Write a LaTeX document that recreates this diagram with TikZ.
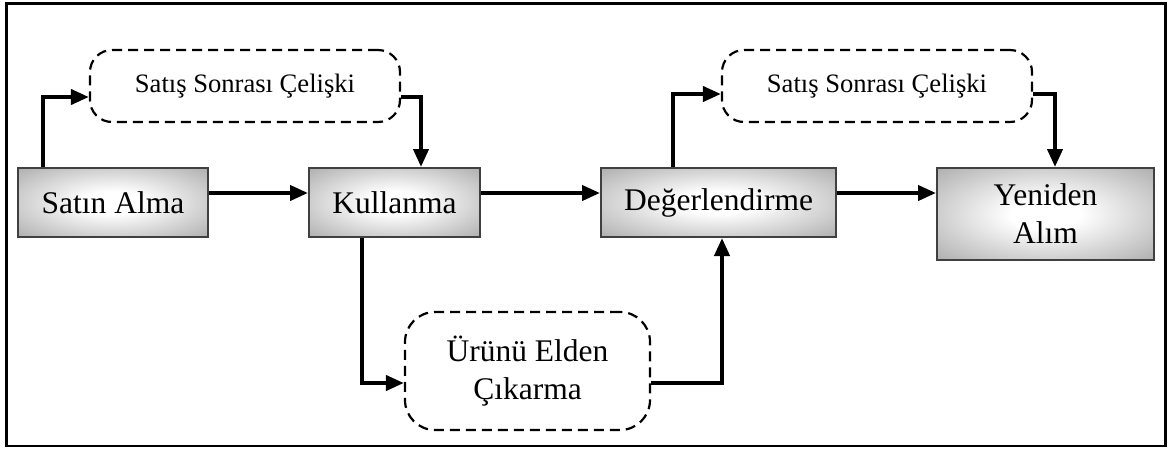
\documentclass[tikz,border=0pt]{standalone}
\usepackage{fontspec}
\setmainfont{Liberation Serif}
\usetikzlibrary{arrows.meta}
\pgfdeclareradialshading{boxshade}{\pgfpoint{0bp}{0bp}}{color(0bp)=(white); color(8bp)=(white); color(50bp)=(black!48); color(72bp)=(black!60)}
\begin{document}
\begin{tikzpicture}[x=1pt,y=-1pt,
  mainbox/.style={draw=black!75, line width=2pt, shading=boxshade, inner sep=0pt, align=center,
    font=\fontsize{31.5}{38}\selectfont},
  dbox/.style={draw=black, dash pattern=on 10pt off 6pt, line width=2.2pt, inner sep=0pt, align=center},
  arr/.style={line width=4pt, -{Triangle[length=18pt,width=15pt]}}]
\useasboundingbox (0,0) rectangle (1169,448);
\draw[line width=2.5pt] (6.5,3.5) rectangle (1165.5,446);

% main boxes
\node[mainbox, minimum width=190pt, minimum height=69pt] (sa) at (113,202.5) {Satın Alma};
\node[mainbox, minimum width=171pt, minimum height=69pt] (ku) at (394.5,202.5) {Kullanma};
\node[mainbox, minimum width=235pt, minimum height=69pt] (de) at (718.5,202.5) {Değerlendirme};
\node[mainbox, minimum width=217pt, minimum height=92pt] (ye) at (1045.5,214) {Yeniden\\Alım};

% dashed boxes
\node[dbox, rounded corners=22pt, minimum width=310pt, minimum height=72pt,
  font=\fontsize{26.6}{32}\selectfont] (s1) at (245,86) {Satış Sonrası Çelişki};
\node[dbox, rounded corners=22pt, minimum width=310pt, minimum height=72pt,
  font=\fontsize{26.6}{32}\selectfont] (s2) at (877,86) {Satış Sonrası Çelişki};
\node[dbox, rounded corners=30pt, minimum width=245pt, minimum height=118pt,
  font=\fontsize{31.5}{37.5}\selectfont] (d3) at (527.5,371) {Ürünü Elden\\Çıkarma};

% helper coordinates
\coordinate (hy) at (0,193);
\coordinate (y97) at (0,97);
\coordinate (y94) at (0,94);
\coordinate (y383) at (0,383);
\coordinate (a1) at (43,0);
\coordinate (a2) at (421,0);
\coordinate (a3) at (362,0);
\coordinate (a4) at (722,0);
\coordinate (a5) at (673,0);
\coordinate (a6) at (1055,0);

% connectors
\draw[arr] (sa.east |- hy) -- (ku.west |- hy);
\draw[arr] (ku.east |- hy) -- (de.west |- hy);
\draw[arr] (de.east |- hy) -- (ye.west |- hy);
\draw[arr] (sa.north -| a1) |- (s1.west |- y97);
\draw[arr] (s1.east |- y97) -| (ku.north -| a2);
\draw[arr] (ku.south -| a3) |- (d3.west |- y383);
\draw[arr] (d3.east |- y383) -| (de.south -| a4);
\draw[arr] (de.north -| a5) |- (s2.west |- y94);
\draw[arr] (s2.east |- y94) -| (ye.north -| a6);
\end{tikzpicture}
\end{document}
